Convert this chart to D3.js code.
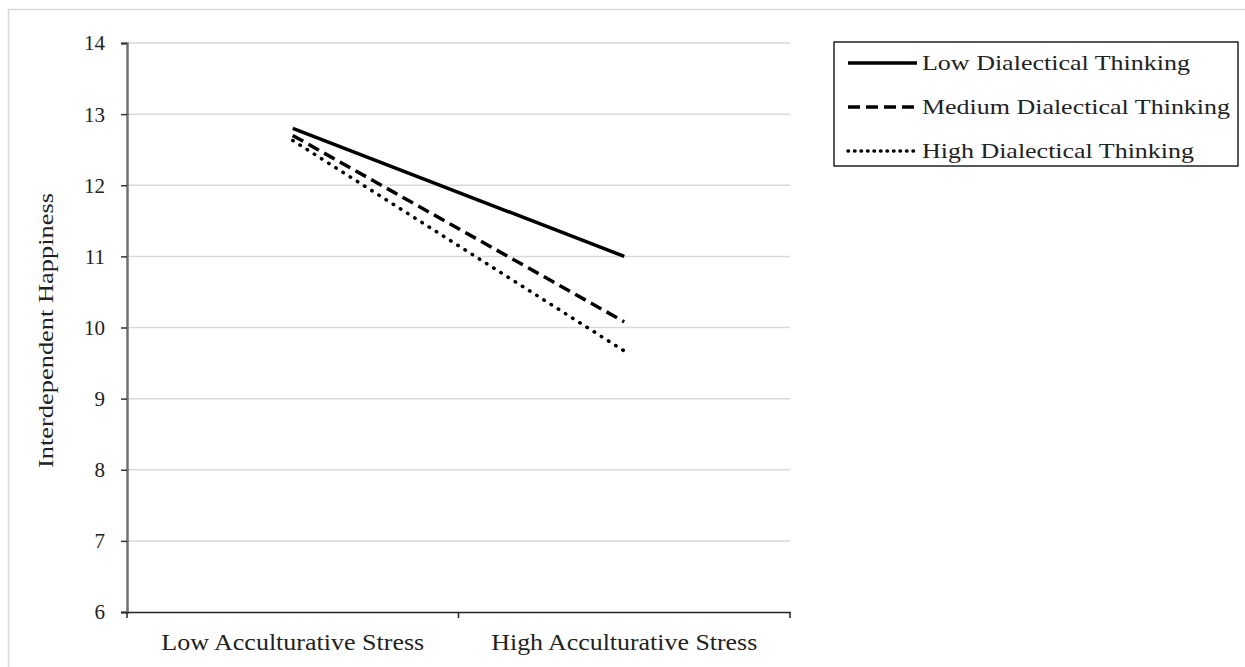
<!DOCTYPE html>
<html><head><meta charset="utf-8">
<script src="https://cdn.jsdelivr.net/npm/d3@7"></script>
<style>body{margin:0;background:#fff;} svg{display:block;}</style>
</head><body>
<svg id="chart" width="1245" height="667"></svg>
<script>
const categories = ["Low Acculturative Stress", "High Acculturative Stress"];
const seriesNames = ["Low Dialectical Thinking", "Medium Dialectical Thinking", "High Dialectical Thinking"];
const lowValues = [12.8, 11.0];
const mediumValues = [12.7, 10.08];
const highValues = [12.63, 9.67];
const yTicks = [6, 7, 8, 9, 10, 11, 12, 13, 14];
const yTitle = "Interdependent Happiness";

const svg = d3.select("#chart");
const font = "'Liberation Serif', 'Times New Roman', serif";
const L = 127, R = 790, T = 43, B = 612;

svg.append("rect").attr("x", 8.5).attr("y", 9.5).attr("width", 1250).attr("height", 670)
  .attr("fill", "none").attr("stroke", "#d9d9d9").attr("stroke-width", 1.5);

const x = d3.scaleBand().domain(categories).range([L, R]);
const y = d3.scaleLinear().domain([6, 14]).range([B, T]);

// gridlines
svg.append("g").selectAll("line").data(yTicks.filter(d => d > 6)).join("line")
  .attr("x1", L).attr("x2", R).attr("y1", d => y(d)).attr("y2", d => y(d))
  .attr("stroke", "#d9d9d9").attr("stroke-width", 1.5);

// y axis
const yAxis = svg.append("g").attr("transform", `translate(${L},0)`)
  .call(d3.axisLeft(y).tickValues(yTicks).tickSize(6).tickPadding(16));
yAxis.select(".domain").attr("stroke", "#707070").attr("stroke-width", 2.5);
yAxis.selectAll(".tick line").attr("stroke", "#333").attr("stroke-width", 1.5);
yAxis.selectAll("text").attr("font-family", font).attr("font-size", 21).attr("fill", "#222")
  .attr("dy", "0.33em");

// x axis
const xAxis = svg.append("g").attr("transform", `translate(0,${B})`)
  .call(d3.axisBottom(x).tickSize(0).tickPadding(0));
xAxis.select(".domain").attr("stroke", "#222").attr("stroke-width", 1.5);
xAxis.selectAll("text").attr("font-family", font).attr("font-size", 23).attr("fill", "#222")
  .attr("y", 38).attr("dy", 0)
  .attr("textLength", (d, i) => i === 0 ? 263 : 266).attr("lengthAdjust", "spacingAndGlyphs");
const bounds = [L, L + x.bandwidth(), R];
svg.append("g").selectAll("line").data(bounds).join("line")
  .attr("x1", d => d).attr("x2", d => d).attr("y1", B).attr("y2", B + 6)
  .attr("stroke", "#222").attr("stroke-width", 1.5);

// y title
svg.append("text").attr("transform", `translate(53,${(T + B) / 2 + 3}) rotate(-90)`)
  .attr("text-anchor", "middle").attr("font-family", font).attr("font-size", 22).attr("fill", "#222")
  .attr("textLength", 275).attr("lengthAdjust", "spacingAndGlyphs")
  .text(yTitle);

const series = [
  {name: seriesNames[0], values: lowValues, dash: null, legendDash: null, width: 3.5, len: 268},
  {name: seriesNames[1], values: mediumValues, dash: "12,6", legendDash: "12,6", width: 3.5, len: 308},
  {name: seriesNames[2], values: highValues, dash: "0.5,8", legendDash: "0.5,6", width: 3.5, cap: "round", len: 272}
];
const line = d3.line().x((d, i) => x(categories[i]) + x.bandwidth() / 2).y(d => y(d));
svg.append("g").selectAll("path").data(series).join("path")
  .attr("d", d => line(d.values)).attr("fill", "none").attr("stroke", "#000")
  .attr("stroke-width", d => d.width).attr("stroke-dasharray", d => d.dash)
  .attr("stroke-linecap", d => d.cap || "butt");

// legend
const lg = svg.append("g");
lg.append("rect").attr("x", 834).attr("y", 42).attr("width", 404).attr("height", 124)
  .attr("fill", "#fff").attr("stroke", "#222").attr("stroke-width", 1.5);
const rows = lg.selectAll("g.row").data(series).join("g").attr("class", "row")
  .attr("transform", (d, i) => `translate(0,${63 + i * 44})`);
rows.append("line").attr("x1", 848).attr("x2", 917).attr("y1", 0).attr("y2", 0)
  .attr("stroke", "#000").attr("stroke-width", d => d.width)
  .attr("stroke-dasharray", d => d.legendDash)
  .attr("stroke-linecap", d => d.cap || "butt");
rows.append("text").attr("x", 922).attr("y", 7).attr("font-family", font).attr("font-size", 22)
  .attr("fill", "#222").attr("textLength", d => d.len).attr("lengthAdjust", "spacingAndGlyphs")
  .text(d => d.name);
</script>
</body></html>
